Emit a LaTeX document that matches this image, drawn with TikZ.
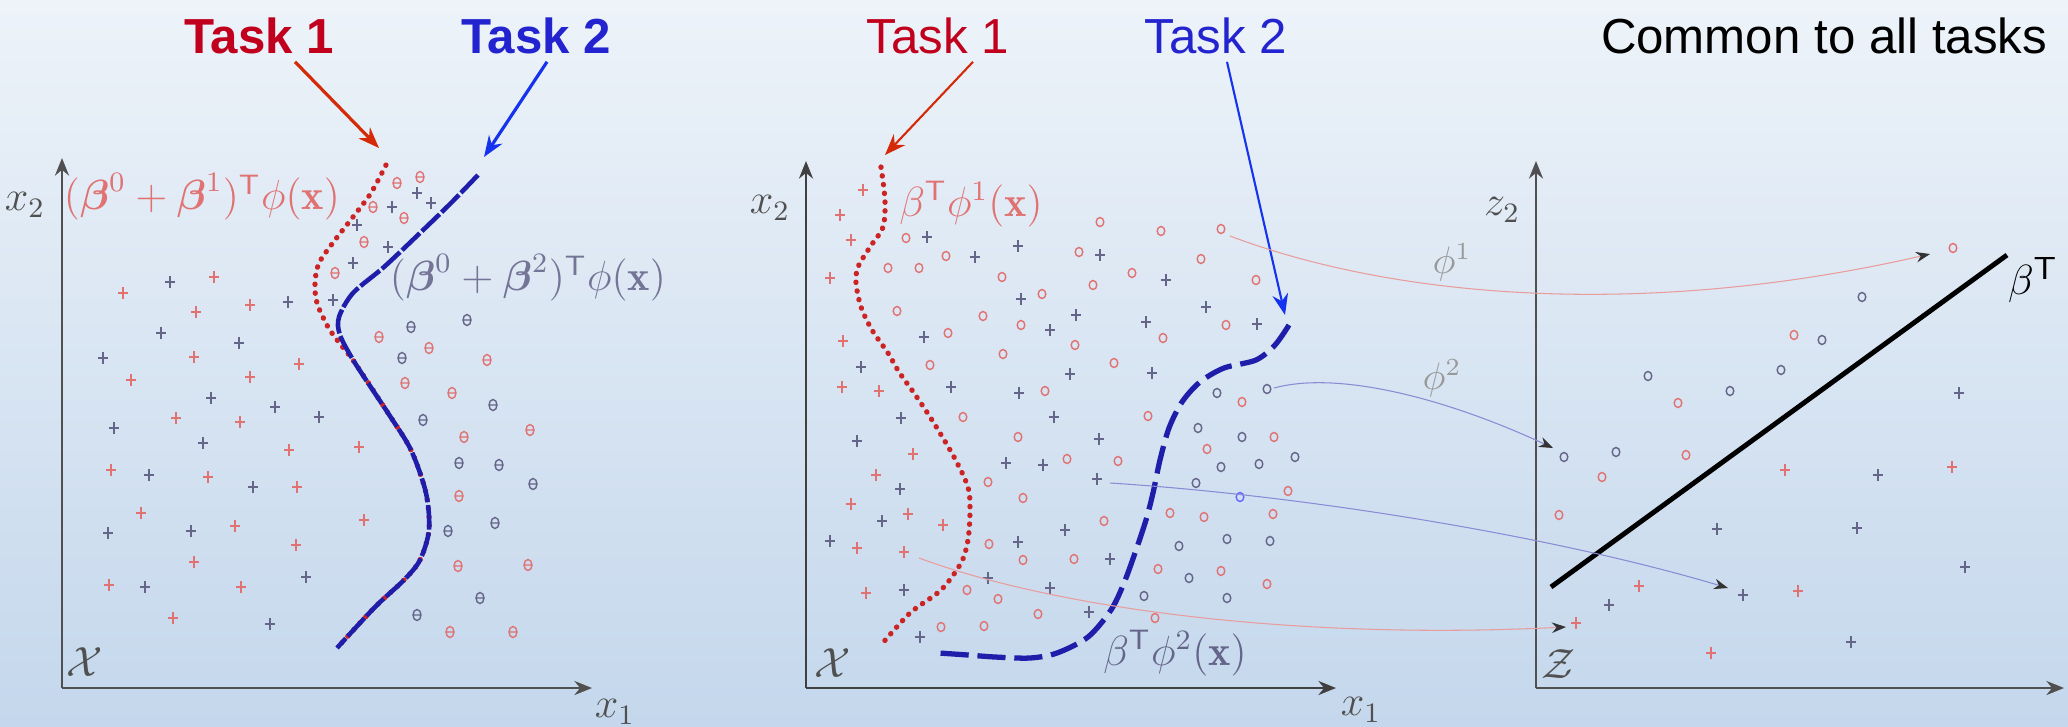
\documentclass[tikz,border=0pt]{standalone}
\usepackage{amsmath,amssymb}
\usepackage{fontspec}
\newfontfamily\arialfont{Liberation Sans}
\usetikzlibrary{arrows.meta,positioning}
\definecolor{cA}{HTML}{C0001C}
\definecolor{cB}{HTML}{2323CF}
\definecolor{cC}{HTML}{D42A08}
\definecolor{cD}{HTML}{1533EE}
\definecolor{cE}{HTML}{CC2424}
\definecolor{cF}{HTML}{1E1EAA}
\definecolor{cP}{HTML}{E07272}
\definecolor{cQ}{HTML}{65658A}
\definecolor{cG}{HTML}{505050}
\definecolor{cTop}{HTML}{EDF3F9}
\definecolor{cBot}{HTML}{C4D7EC}
\tikzset{
  axis/.style={-{Stealth[length=5pt,width=4pt]},draw=cG,line width=0.7pt},
  tsk/.style={font=\arialfont\fontsize{14}{16}\selectfont,inner sep=2pt},
  tskb/.style={tsk,font=\arialfont\bfseries\fontsize{14}{16}\selectfont},
  lbl/.style={font=\fontsize{12}{14}\selectfont,inner sep=1pt},
  sml/.style={font=\fontsize{10.5}{12}\selectfont,inner sep=1pt,text=black!40},
  rpl/.style={draw=cP,line width=0.4pt},
  bpl/.style={draw=cQ,line width=0.4pt},
  arrR/.style={-{Stealth[length=6pt,width=4.5pt]},draw=cC,line width=0.9pt},
  arrB/.style={-{Stealth[length=6pt,width=4.5pt]},draw=cD,line width=0.9pt},
  rdot/.style={draw=cE,line width=1.5pt,dash pattern=on 0.1pt off 2.4pt,line cap=round},
  bdash/.style={draw=cF,line width=1.3pt,dash pattern=on 7pt off 0.8pt},
  bdash2/.style={draw=cF,line width=1.5pt,dash pattern=on 8pt off 2.5pt},
  mapR/.style={-{Stealth[length=4pt,width=3pt,color=black!80]},draw=cP!70,line width=0.3pt},
  mapB/.style={-{Stealth[length=4pt,width=3pt,color=black!80]},draw=cQ!60!blue!60,line width=0.3pt},
  sep/.style={draw=black,line width=1.4pt},
}
\begin{document}
\begin{tikzpicture}[x=0.01cm,y=-0.01cm]
  \shade[top color=cTop,bottom color=cBot] (0,0) rectangle (2068,726);
  \useasboundingbox (0,0) rectangle (2068,726);

  % first picture
  \draw[axis] (62,688) -- (62,158);
  \draw[axis] (62,688) -- (592,688);
  \node[lbl,text=cG] (x2a) at (25,205) {$x_2$};
  \node[lbl,text=cG] (x1a) at (615,712) {$x_1$};
  \node[lbl,text=cG] (Xa) at (85,662) {$\mathcal{X}$};
  \foreach \x/\y in {214/277,123/293,196/312,250/305,194/357,299/364,131/380,250/377,176/418,240/422,289/450,359/447,111/470,208/477,297/487,141/513,364/520,235/526,296/545,194/562,109/585,241/587,173/618}
    \draw[rpl] (\x-5,\y) -- (\x+5,\y) (\x,\y-6) -- (\x,\y+6);
  \foreach \x/\y in {170/282,288/302,333/300,161/333,239/343,103/358,357/225,392/207,417/193,431/203,388/247,353/263,211/398,275/407,319/417,114/428,203/443,149/475,253/487,108/533,191/531,306/577,145/587,270/624}
    \draw[bpl] (\x-5,\y) -- (\x+5,\y) (\x,\y-6) -- (\x,\y+6);
  \foreach \x/\y in {420/177,397/183,373/207,404/218,364/242,335/273,379/337,429/348,487/360,405/383,452/393,464/437,530/430,459/496,458/566,528/565,450/632,513/632}
    \draw[rpl] (\x,\y) ellipse[x radius=0.4mm,y radius=0.55mm] (\x-3,\y) -- (\x+3,\y);
  \foreach \x/\y in {411/327,467/320,402/358,493/405,423/420,459/463,499/465,533/484,495/523,448/531,480/598,417/615}
    \draw[bpl] (\x,\y) ellipse[x radius=0.4mm,y radius=0.55mm] (\x-3,\y) -- (\x+3,\y);
  \draw[rdot] plot[smooth] coordinates {(386,165) (371,193) (353,217) (335,240) (319,263) (315,283) (317,303) (328,327) (341,345) (355,363) (388,413) (411,450) (426,493) (429,530) (420,560) (404,580) (375,607) (337,648)};
  \draw[bdash] plot[smooth] coordinates {(478,175) (451,203) (420,233) (384,267) (353,293) (339,317) (340,335) (355,363) (388,413) (411,450) (426,493) (429,530) (420,560) (404,580) (375,607) (337,648)};
  \node[lbl,text=cP] (f1) at (202,197) {$(\boldsymbol{\beta}^0+\boldsymbol{\beta}^1)^{\mathsf{T}}\phi(\mathbf{x})$};
  \node[lbl,text=cQ!90] (f2) at (528,278) {$(\boldsymbol{\beta}^0+\boldsymbol{\beta}^2)^{\mathsf{T}}\phi(\mathbf{x})$};
  \node[tskb,text=cA] (t1a) at (259,36) {Task 1};
  \node[tskb,text=cB] (t2a) at (536,36) {Task 2};
  \coordinate (r1) at (379,148);
  \coordinate (b1) at (484,157);
  \draw[arrR] ([xshift=3.6mm]t1a.south) -- (r1);
  \draw[arrB] ([xshift=1.1mm]t2a.south) -- (b1);

  % second picture
  \draw[axis,draw=black!75] (806,688) -- (806,161);
  \draw[axis,draw=black!75] (806,688) -- (1336,688);
  \node[lbl,text=cG] (x2b) at (770,208) {$x_2$};
  \node[lbl,text=cG] (x1b) at (1361,710) {$x_1$};
  \node[lbl,text=cG] (Xb) at (833,663) {$\mathcal{X}$};
  \foreach \x/\y in {863/190,840/215,851/240,830/278,843/341,842/387,879/391,913/454,876/475,851/504,908/514,943/525,857/548,904/552,866/593}
    \draw[rpl] (\x-5,\y) -- (\x+5,\y) (\x,\y-6) -- (\x,\y+6);
  \foreach \x/\y in {927/237,1018/246,975/257,1100/255,1166/280,1021/299,1076/315,1206/307,1146/322,1257/324,1050/330,924/337,861/367,1070/374,1152/373,951/387,1019/393,901/418,1054/417,857/441,1099/439,1006/463,1043/465,1097/479,900/489,882/521,1065/530,830/541,1018/542,1110/559,988/578,1050/588,904/590,1089/612,920/637}
    \draw[bpl] (\x-5,\y) -- (\x+5,\y) (\x,\y-6) -- (\x,\y+6);
  \foreach \x/\y in {1100/222,1161/231,1221/229,906/238,946/256,1079/252,888/268,919/268,1002/277,1201/259,1132/273,1093/285,1256/280,1042/294,897/311,983/316,1021/325,1226/325,948/333,1163/338,1075/345,1003/354,1114/363,930/365,1045/391,963/417,1148/416,1242/402,1018/437,1274/437,1207/449,1067/459,1118/461,988/482,1023/498,1288/491,1104/521,1170/513,1204/517,1273/514,989/544,1023/560,1074/559,1158/569,1221/571,1267/584,967/590,998/599,1038/614,1155/618,941/627,984/626}
    \draw[rpl] (\x,\y) ellipse[x radius=0.38mm,y radius=0.45mm];
  \foreach \x/\y in {1217/393,1267/389,1198/428,1242/437,1221/467,1259/464,1295/457,1196/483,1179/546,1227/539,1270/541,1189/578,1144/596,1227/598}
    \draw[bpl] (\x,\y) ellipse[x radius=0.38mm,y radius=0.45mm];
  \draw[bpl,draw=blue!60] (1240,497) ellipse[x radius=0.38mm,y radius=0.45mm];
  \draw[rdot] plot[smooth] coordinates {(881,167) (885,200) (883,227) (870,247) (858,267) (856,283) (861,307) (872,330) (888,353) (899,372) (914,393) (932,420) (954,457) (968,487) (970,510) (968,540) (961,563) (941,590) (910,613) (881,645)};
  \draw[bdash2] plot[smooth] coordinates {(1289,325) (1275,345) (1256,360) (1224,368) (1200,382) (1182,402) (1169,428) (1160,460) (1153,493) (1146,520) (1135,553) (1124,583) (1111,610) (1088,637) (1057,653) (1030,658) (995,657) (968,655) (939,653)};
  \node[lbl,text=cP] (f3) at (971,204) {$\beta^{\mathsf{T}}\phi^1(\mathbf{x})$};
  \node[lbl,text=cQ] (f4) at (1175,653) {$\beta^{\mathsf{T}}\phi^2(\mathbf{x})$};
  \node[tsk,text=cA] (t1b) at (938,36) {Task 1};
  \node[tsk,text=cB] (t2b) at (1216,36) {Task 2};
  \coordinate (r2) at (885,155);
  \coordinate (b2) at (1285,315);
  \draw[arrR,line width=0.6pt] ([xshift=3.5mm]t1b.south) -- (r2);
  \draw[arrB,line width=0.6pt] ([xshift=1.1mm]t2b.south) -- (b2);

  % third picture
  \draw[axis] (1536,688) -- (1536,161);
  \draw[axis] (1536,688) -- (2064,688);
  \node[lbl,text=cG] (z2) at (1502,210) {$z_2$};
  \node[lbl,text=cG] (Zc) at (1558,664) {$\mathcal{Z}$};
  \node[tsk] (com) at (1824,36) {Common to all tasks};
  \foreach \x/\y in {1785/470,1952/467,1639/586,1798/591,1576/623,1711/653}
    \draw[rpl] (\x-5,\y) -- (\x+5,\y) (\x,\y-6) -- (\x,\y+6);
  \foreach \x/\y in {1959/393,1878/475,1717/529,1857/528,1965/567,1609/605,1743/595,1851/642}
    \draw[bpl] (\x-5,\y) -- (\x+5,\y) (\x,\y-6) -- (\x,\y+6);
  \foreach \x/\y in {1953/248,1794/335,1678/403,1686/455,1602/477,1559/515}
    \draw[rpl] (\x,\y) ellipse[x radius=0.38mm,y radius=0.45mm];
  \foreach \x/\y in {1862/297,1822/340,1781/370,1648/376,1730/391,1564/457,1616/452}
    \draw[bpl] (\x,\y) ellipse[x radius=0.38mm,y radius=0.45mm];
  \coordinate (bl) at (1551,587);
  \coordinate (bu) at (2007,255);
  \draw[sep] (bl) -- (bu);
  \node[lbl,font=\fontsize{13}{15}\selectfont] (bT) at (2033,280) {$\beta^{\mathsf{T}}$};

  % maps
  \coordinate (m1s) at (1230,236);
  \coordinate (m1e) at (1930,254);
  \coordinate (m2s) at (1274,388);
  \coordinate (m2e) at (1553,448);
  \coordinate (m3s) at (1110,483);
  \coordinate (m3e) at (1728,588);
  \coordinate (m4s) at (919,558);
  \coordinate (m4e) at (1566,627);
  \draw[mapR] (m1s) .. controls (1400,300) and (1650,318) .. (m1e);
  \draw[mapB] (m2s) .. controls (1340,370) and (1450,400) .. (m2e);
  \draw[mapB] (m3s) .. controls (1300,495) and (1550,535) .. (m3e);
  \draw[mapR] (m4s) .. controls (1060,610) and (1300,640) .. (m4e);
  \node[sml] (p1) at (1452,262) {$\phi^1$};
  \node[sml] (p2) at (1442,378) {$\phi^2$};
\end{tikzpicture}
\end{document}
